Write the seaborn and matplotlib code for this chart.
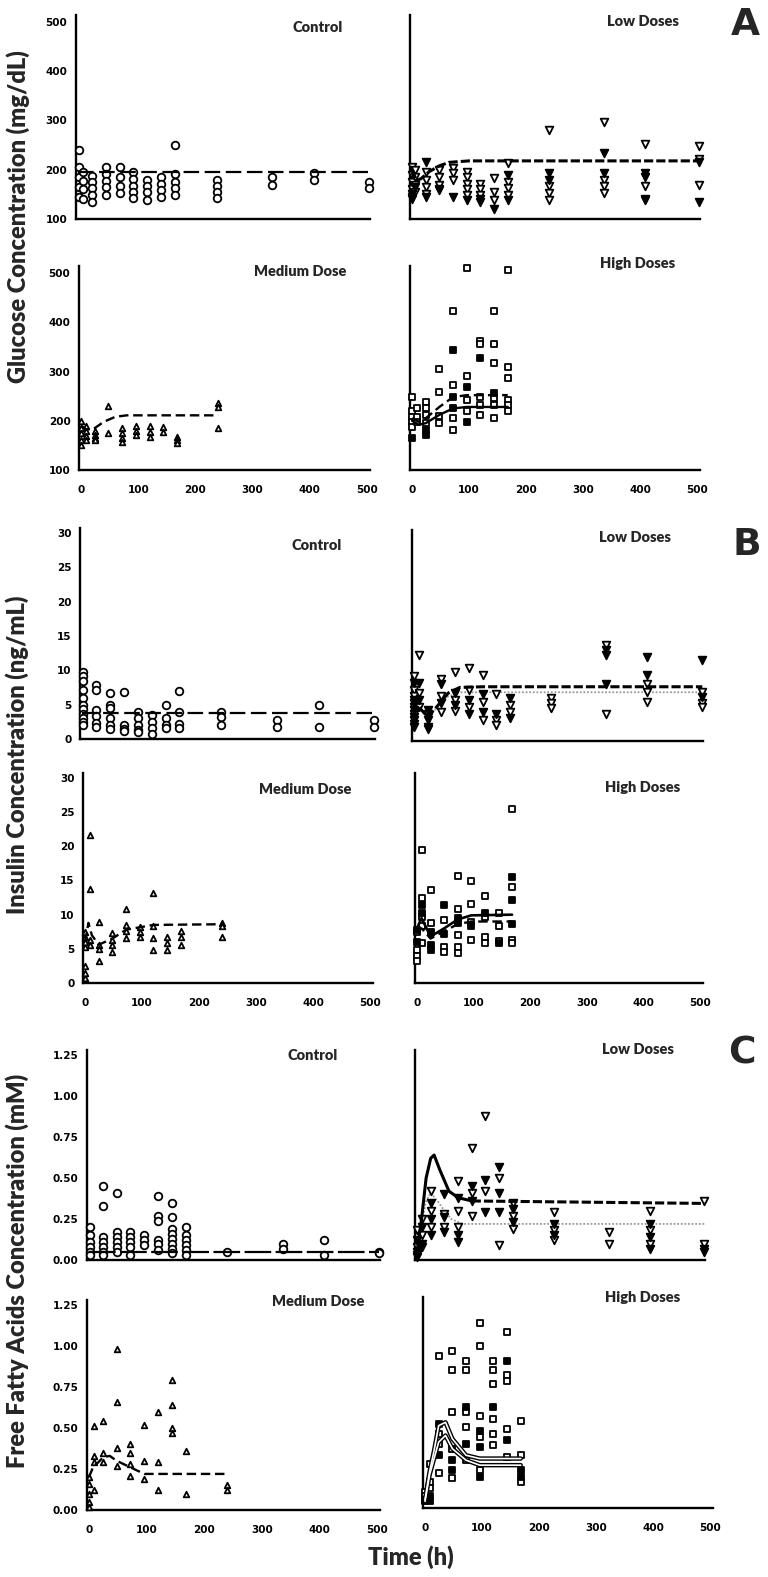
import matplotlib
matplotlib.use("Agg")
import matplotlib.pyplot as plt
import seaborn as sns

sns.set_style("white")
plt.rcParams['font.family'] = ['DejaVu Sans']
plt.rcParams['font.weight'] = 'bold'

# ---------------- data ----------------
# Glucose (mg/dL)
glu_ctrl_t = [2, 8, 24, 48, 72, 96, 120, 144, 168, 240, 336, 408, 504]
glu_ctrl_v = [[240, 205, 185, 165, 145], [195, 178, 160, 140], [188, 175, 162, 148, 135],
              [205, 192, 178, 165, 148], [205, 185, 168, 152], [195, 182, 168, 155, 142],
              [180, 168, 155, 138], [185, 172, 158, 145], [250, 192, 175, 162, 148],
              [180, 167, 155, 142], [185, 170], [193, 180], [175, 163]]
glu_ctrl_fit_t = [0, 504]
glu_ctrl_fit_v = [196, 196]

glu_low_t = [0, 6, 24, 48, 72, 96, 120, 144, 168, 240, 336, 408, 504]
glu_low_open = [[205, 190, 175, 160, 145], [200, 185, 170, 155], [195, 180, 165, 150],
                [200, 185, 170, 158], [203, 193, 179], [196, 185, 172, 160, 148],
                [172, 160, 148, 135], [183, 155, 138], [214, 176, 162, 148],
                [280, 166, 152, 138], [297, 179, 166, 152], [252, 166, 138], [248, 221, 169]]
glu_low_filled = [[150, 140], [165], [215, 145], [160], [145], [138], [140], [121],
                  [190, 138], [193, 179], [235, 193], [193, 186, 140], [134, 215]]
glu_low_fit_t = [0, 8, 16, 30, 48, 65, 100, 504]
glu_low_fit_v = [200, 178, 182, 196, 208, 215, 218, 218]

glu_med_t = [0, 8, 24, 48, 72, 96, 120, 144, 168, 240]
glu_med_v = [[200, 185, 175, 160, 150], [190, 180, 170, 160], [180, 172, 165, 160], [230, 175],
             [185, 176, 165, 157], [190, 180, 172], [190, 178, 168], [188, 178],
             [168, 160, 155], [237, 228, 185]]
glu_med_fit_t = [0, 10, 24, 40, 60, 80, 240]
glu_med_fit_v = [190, 182, 185, 198, 208, 211, 211]

glu_high_t = [0, 8, 24, 48, 72, 96, 120, 144, 168]
glu_high_open = [[249, 219, 208, 198, 188], [225, 208, 198], [239, 225, 212, 195],
                 [305, 259, 209, 195], [422, 273, 205, 181], [510, 291, 242, 219],
                 [361, 355, 249, 232, 212], [423, 355, 317, 246, 232, 205],
                 [507, 310, 286, 242, 232, 219]]
glu_high_filled = [[164], [], [171, 181], [], [344, 249, 225], [269, 198], [327], [256], []]
glu_high_fit_t = [0, 12, 24, 48, 72, 96, 168]
glu_high_fit1_v = [205, 198, 205, 228, 248, 252, 252]
glu_high_fit2_v = [200, 192, 195, 212, 225, 228, 228]

# Insulin (ng/mL)
ins_ctrl_t = [2, 24, 48, 72, 96, 120, 144, 168, 240, 336, 408, 504]
ins_ctrl_v = [[9.8, 9.2, 8.4, 7.2, 6.0, 5.0, 4.3, 3.6, 3.0, 2.5, 2.0], [7.8, 7.2, 4.2, 3.3, 2.4, 1.7],
              [6.7, 5.0, 4.5, 3.0, 2.0, 1.4], [6.9, 2.0, 1.4, 1.2], [4.0, 3.0, 2.0, 1.3, 1.0],
              [3.5, 2.5, 1.6, 0.8], [5.0, 3.0, 2.0, 1.6], [7.0, 4.0, 2.2, 1.6], [4.0, 3.2, 2.0],
              [2.8, 1.8], [5.0, 1.8], [2.8, 1.8]]
ins_ctrl_fit_t = [0, 504]
ins_ctrl_fit_v = [3.8, 3.8]

ins_low_t = [0, 8, 24, 48, 72, 96, 120, 144, 168, 240, 336, 408, 504]
ins_low_open = [[9.5, 7.5, 6.5, 5.0, 4.0, 3.0, 2.0], [12.5, 7.0, 5.0], [4.0, 3.0], [9.0, 6.5, 4.2],
                [10.0, 6.0, 4.3], [10.6, 7.4, 5.0], [9.6, 5.7, 3.0], [6.9, 3.0, 2.3], [5.2, 4.2],
                [6.2, 5.5, 4.8], [14.0, 4.0], [8.3, 7.1, 5.7], [7.2, 5.6, 4.9]]
ins_low_filled = [[8.5, 6.0, 5.5, 4.5, 3.5, 2.5], [8.5, 6.0], [4.5, 3.5, 2.0, 1.8], [8.3, 5.5],
                  [7.0, 5.2], [6.0, 4.0], [6.9, 4.2], [4.0], [6.2, 3.3], [], [13.2, 12.5, 8.3],
                  [12.2, 9.6], [11.8, 6.4]]
ins_low_fit_t = [0, 8, 24, 40, 60, 80, 120, 504]
ins_low_fit_v = [6.5, 5.0, 3.5, 5.0, 7.0, 7.8, 7.9, 7.9]
ins_low_fit2_t = [0, 8, 24, 40, 60, 80, 504]
ins_low_fit2_v = [6.3, 5.0, 3.6, 4.8, 6.5, 7.1, 7.1]

ins_med_t = [0, 8, 24, 48, 72, 96, 120, 144, 168, 240]
ins_med_v = [[0.8, 1.5, 2.5, 5.3, 6.0, 6.8, 7.5], [21.6, 13.8, 6.3, 5.5], [9.0, 5.5, 5.0, 3.2],
             [7.3, 6.3, 5.6, 4.5], [10.8, 8.5, 7.6, 6.6], [8.2, 7.5, 6.8], [13.2, 8.3, 6.6, 4.9],
             [6.8, 5.8, 4.9], [7.6, 6.8, 5.6], [8.8, 8.3, 6.8]]
ins_med_fit_t = [0, 6, 12, 24, 48, 72, 120, 240]
ins_med_fit_v = [6.0, 8.8, 7.0, 5.6, 6.5, 7.8, 8.5, 8.6]

ins_high_t = [0, 8, 24, 48, 72, 96, 120, 144, 168]
ins_high_open = [[7.5, 4.9, 3.9, 3.2], [19.5, 12.4, 9.7, 8.3, 5.8], [13.6, 8.8], [9.2, 5.3, 4.6],
                 [15.6, 10.9, 7.0, 5.3, 4.4], [15.0, 11.6, 9.0, 6.3], [12.7, 9.7, 6.8, 5.8],
                 [10.2, 8.3, 6.2], [25.5, 14.0, 6.3, 5.8]]
ins_high_filled = [[7.8, 6.0], [11.4, 10.2], [7.5, 5.5, 4.9], [11.4, 7.2], [9.5, 8.8], [8.3],
                   [10.2], [5.8], [15.5, 12.1, 8.7]]
ins_high_fit_t = [0, 8, 24, 48, 72, 96, 168]
ins_high_fit1_v = [8.0, 9.5, 6.8, 8.0, 9.3, 9.9, 10.0]
ins_high_fit2_v = [7.5, 8.0, 6.5, 7.6, 8.6, 9.0, 9.0]

# Free fatty acids (mM)
ffa_ctrl_t = [2, 24, 48, 72, 96, 120, 144, 168, 240, 336, 408, 504]
ffa_ctrl_v = [[0.20, 0.15, 0.11, 0.08, 0.05, 0.03], [0.45, 0.33, 0.14, 0.11, 0.08, 0.05, 0.03],
              [0.41, 0.17, 0.14, 0.11, 0.08, 0.05], [0.17, 0.14, 0.11, 0.08, 0.03],
              [0.15, 0.12, 0.09], [0.39, 0.27, 0.24, 0.12, 0.10, 0.06],
              [0.35, 0.26, 0.19, 0.16, 0.13, 0.10, 0.07, 0.04], [0.20, 0.15, 0.12, 0.09, 0.06, 0.03],
              [0.05], [0.10, 0.07], [0.12, 0.03], [0.05, 0.04]]
ffa_ctrl_fit_t = [0, 504]
ffa_ctrl_fit_v = [0.05, 0.05]

ffa_low_t = [0, 8, 24, 48, 72, 96, 120, 144, 168, 240, 336, 408, 504]
ffa_low_open = [[0.18, 0.08, 0.03], [0.25, 0.15, 0.08], [0.42, 0.30, 0.20], [0.28, 0.20],
                [0.48, 0.30, 0.20], [0.68, 0.41, 0.27], [0.88, 0.42], [0.50, 0.09],
                [0.35, 0.27, 0.19], [0.29, 0.18, 0.12], [0.17, 0.10], [0.30, 0.18, 0.10],
                [0.36, 0.10, 0.05]]
ffa_low_filled = [[0.12, 0.05, 0.02], [0.20, 0.10], [0.35, 0.25, 0.15], [0.40, 0.26, 0.17],
                  [0.38, 0.15, 0.11], [0.45, 0.36], [0.49, 0.29], [0.57, 0.41, 0.29],
                  [0.31, 0.23], [0.22, 0.15], [], [0.22, 0.14, 0.07], [0.07]]
ffa_low_fit_t = [0, 8, 16, 24, 30, 40, 56, 72, 96]
ffa_low_fit_v = [0.05, 0.25, 0.50, 0.62, 0.64, 0.55, 0.42, 0.38, 0.36]
ffa_low_tail_t = [96, 504]
ffa_low_tail_v = [0.36, 0.345]
ffa_low_fit2_t = [0, 8, 16, 24, 36, 48, 60, 80, 504]
ffa_low_fit2_v = [0.05, 0.22, 0.36, 0.41, 0.36, 0.30, 0.25, 0.22, 0.22]

ffa_med_t = [0, 8, 24, 48, 72, 96, 120, 144, 168, 240]
ffa_med_v = [[0.20, 0.16, 0.10, 0.05, 0.02], [0.51, 0.33, 0.29, 0.12], [0.54, 0.35, 0.29],
             [0.98, 0.66, 0.38, 0.27], [0.40, 0.35, 0.28, 0.21], [0.52, 0.30, 0.19],
             [0.60, 0.29, 0.12], [0.79, 0.64, 0.50, 0.47], [0.36, 0.10], [0.15, 0.12]]
ffa_med_fit_t = [0, 8, 16, 24, 36, 48, 72, 96, 240]
ffa_med_fit_v = [0.20, 0.27, 0.29, 0.32, 0.33, 0.30, 0.26, 0.22, 0.22]

ffa_high_t = [0, 8, 24, 48, 72, 96, 120, 144, 168]
ffa_high_open = [[0.10, 0.07, 0.04], [0.27, 0.16, 0.12], [0.92, 0.45, 0.39, 0.21],
                 [0.95, 0.84, 0.58, 0.36, 0.18], [0.89, 0.84, 0.58, 0.49, 0.29],
                 [1.12, 0.98, 0.56, 0.43, 0.23], [0.89, 0.84, 0.75, 0.54, 0.45, 0.38],
                 [1.07, 0.81, 0.77, 0.48, 0.31], [0.53, 0.32, 0.16]]
ffa_high_filled = [[0.05], [0.07, 0.04], [0.51, 0.32], [0.29, 0.23], [0.61, 0.39],
                   [0.47, 0.37, 0.19], [0.61], [0.89, 0.41], [0.23, 0.19]]
ffa_high_fit_t = [0, 8, 16, 24, 36, 48, 72, 96, 168]
ffa_high_fit1_v = [0.05, 0.22, 0.35, 0.50, 0.52, 0.42, 0.32, 0.30, 0.30]
ffa_high_fit2_v = [0.04, 0.20, 0.30, 0.40, 0.44, 0.36, 0.29, 0.26, 0.26]

x_ticks = [0, 100, 200, 300, 400, 500]
glu_ticks = [100, 200, 300, 400, 500]
ins_ticks = [0, 5, 10, 15, 20, 25, 30]
ffa_ticks = [0.0, 0.25, 0.5, 0.75, 1.0, 1.25]

# ---------------- figure ----------------
W, H = 768, 1577
fig = plt.figure(figsize=(W / 100, H / 100), dpi=100)
LBL = ['Lato', 'DejaVu Sans']


def make_ax(x0, x500, ybot, ytop, lo, hi, extra, yticks, fmt, ylabels, xlabels):
    ppx = (x500 - x0) / 500
    left = x0 - 4 * ppx
    right = x0 + 506 * ppx
    ppy = (ybot - ytop) / (hi - lo)
    top = ytop - extra * ppy
    ax = fig.add_axes([left / W, 1 - ybot / H, (right - left) / W, (ybot - top) / H])
    ax.set_xlim(-4, 506)
    ax.set_ylim(lo, hi + extra)
    for s in ['top', 'right']:
        ax.spines[s].set_visible(False)
    for s in ['left', 'bottom']:
        ax.spines[s].set_color('black')
        ax.spines[s].set_linewidth(1.7)
    ax.set_xticks(x_ticks)
    ax.set_yticks(yticks)
    ax.tick_params(direction='out', length=3, width=1.3, colors='black', labelsize=7.5)
    ax.tick_params(axis='x', pad=8)
    ax.tick_params(axis='y', pad=3)
    if xlabels:
        ax.set_xticklabels([str(v) for v in x_ticks], fontweight='bold')
    else:
        ax.set_xticklabels([])
    if ylabels:
        ax.set_yticklabels([fmt.format(v) for v in yticks], fontweight='bold')
    else:
        ax.set_yticklabels([])
    ax.grid(False)
    return ax


def pts(ax, t, vals, marker, size, filled=False):
    xs = [ti for ti, vs in zip(t, vals) for _ in vs]
    ys = [v for vs in vals for v in vs]
    if not xs:
        return
    sns.scatterplot(x=xs, y=ys, ax=ax, marker=marker, s=size,
                    facecolor='black' if filled else 'white', edgecolor='black',
                    linewidth=1.3, clip_on=False, zorder=3)


def fit(ax, t, v, ls='-', lw=1.5, color='black', z=4):
    sns.lineplot(x=t, y=v, ax=ax, color=color, linewidth=lw, linestyle=ls, zorder=z)


LONG = (0, (7, 2.5))
SHORT = (0, (3, 1))

# Glucose
ax = make_ax(78, 367, 219, 22, 100, 500, 15, glu_ticks, '{:d}', True, False)
pts(ax, glu_ctrl_t, glu_ctrl_v, 'o', 30)
fit(ax, glu_ctrl_fit_t, glu_ctrl_fit_v, LONG, 1.6)

ax = make_ax(412, 697, 219, 22, 100, 500, 15, glu_ticks, '{:d}', False, False)
pts(ax, glu_low_t, glu_low_open, 'v', 30)
pts(ax, glu_low_t, glu_low_filled, 'v', 30, True)
fit(ax, glu_low_fit_t, glu_low_fit_v, SHORT, 2.2)

ax = make_ax(81, 367, 470, 273, 100, 500, 15, glu_ticks, '{:d}', True, True)
pts(ax, glu_med_t, glu_med_v, '^', 16)
fit(ax, glu_med_fit_t, glu_med_fit_v, (0, (4, 2)), 1.7)

ax = make_ax(412, 697, 470, 273, 100, 500, 15, glu_ticks, '{:d}', False, True)
pts(ax, glu_high_t, glu_high_open, 's', 22)
pts(ax, glu_high_t, glu_high_filled, 's', 22, True)
fit(ax, glu_high_fit_t, glu_high_fit1_v, (0, (4, 2)), 1.7)
fit(ax, glu_high_fit_t, glu_high_fit2_v, '-', 1.7)

# Insulin
ax = make_ax(82, 372, 739, 533, 0, 30, 0.8, ins_ticks, '{:d}', True, False)
pts(ax, ins_ctrl_t, ins_ctrl_v, 'o', 30)
fit(ax, ins_ctrl_fit_t, ins_ctrl_fit_v, LONG, 1.6)

ax = make_ax(414, 700, 741, 535, 0, 30, 0.8, ins_ticks, '{:d}', False, False)
pts(ax, ins_low_t, ins_low_open, 'v', 30)
pts(ax, ins_low_t, ins_low_filled, 'v', 30, True)
fit(ax, ins_low_fit2_t, ins_low_fit2_v, (0, (1, 1)), 1.3, '#999999', 2.5)
fit(ax, ins_low_fit_t, ins_low_fit_v, SHORT, 2.2)

ax = make_ax(85, 370, 983, 778, 0, 30, 0.8, ins_ticks, '{:d}', True, True)
pts(ax, ins_med_t, ins_med_v, '^', 16)
fit(ax, ins_med_fit_t, ins_med_fit_v, (0, (4, 2)), 1.7)

ax = make_ax(417, 700, 983, 778, 0, 30, 0.8, ins_ticks, '{:d}', False, True)
pts(ax, ins_high_t, ins_high_open, 's', 22)
pts(ax, ins_high_t, ins_high_filled, 's', 22, True)
fit(ax, ins_high_fit_t, ins_high_fit1_v, '-', 1.9)
fit(ax, ins_high_fit_t, ins_high_fit2_v, (0, (4, 2)), 1.7)

# Free fatty acids
ax = make_ax(89, 377, 1260, 1055, 0, 1.25, 0.03, ffa_ticks, '{:.2f}', True, False)
pts(ax, ffa_ctrl_t, ffa_ctrl_v, 'o', 30)
fit(ax, ffa_ctrl_fit_t, ffa_ctrl_fit_v, (0, (12, 2)), 1.6)

ax = make_ax(417, 702, 1260, 1055, 0, 1.25, 0.03, ffa_ticks, '{:.2f}', False, False)
pts(ax, ffa_low_t, ffa_low_open, 'v', 30)
pts(ax, ffa_low_t, ffa_low_filled, 'v', 30, True)
fit(ax, ffa_low_fit2_t, ffa_low_fit2_v, (0, (1, 1)), 1.3, '#999999', 2.5)
fit(ax, ffa_low_fit_t, ffa_low_fit_v, '-', 2.2)
fit(ax, ffa_low_tail_t, ffa_low_tail_v, SHORT, 2.2)

ax = make_ax(89, 377, 1510, 1305, 0, 1.25, 0.03, ffa_ticks, '{:.2f}', True, True)
pts(ax, ffa_med_t, ffa_med_v, '^', 16)
fit(ax, ffa_med_fit_t, ffa_med_fit_v, (0, (4, 2)), 1.7)

ax = make_ax(425, 710, 1508, 1302, 0, 1.25, 0.03, ffa_ticks, '{:.2f}', False, True)
pts(ax, ffa_high_t, ffa_high_open, 's', 22)
pts(ax, ffa_high_t, ffa_high_filled, 's', 22, True)
for v in (ffa_high_fit1_v, ffa_high_fit2_v):
    fit(ax, ffa_high_fit_t, v, '-', 3.2)
    fit(ax, ffa_high_fit_t, v, '-', 1.2, 'white', 5)

# panel titles
titles = [("Control", 318, 27), ("Low Doses", 643, 22), ("Medium Dose", 300, 272),
          ("High Doses", 638, 263), ("Control", 317, 545), ("Low Doses", 635, 537),
          ("Medium Dose", 305, 790), ("High Doses", 643, 787), ("Control", 313, 1055),
          ("Low Doses", 638, 1050), ("Medium Dose", 318, 1302), ("High Doses", 643, 1298)]
for txt, x, y in titles:
    fig.text(x / W, 1 - y / H, txt, ha='center', va='center', fontsize=10.5,
             fontweight='heavy', family=LBL)

# axis labels
for txt, x, y in [("Glucose Concentration (mg/dL)", 18, 217),
                  ("Insulin Concentration (ng/mL)", 17, 755),
                  ("Free Fatty Acids Concentration (mM)", 17, 1271)]:
    fig.text(x / W, 1 - y / H, txt, rotation=90, ha='center', va='center',
             fontsize=17, fontweight='heavy', family=LBL)
fig.text(411 / W, 1 - 1557 / H, "Time (h)", ha='center', va='center', fontsize=17,
         fontweight='heavy', family=LBL)

for txt, x, y in [("A", 745, 25), ("B", 747, 545), ("C", 742, 1053)]:
    fig.text(x / W, 1 - y / H, txt, ha='center', va='center', fontsize=27,
             fontweight='bold')

fig.savefig("out.png", dpi=100, facecolor='white')
